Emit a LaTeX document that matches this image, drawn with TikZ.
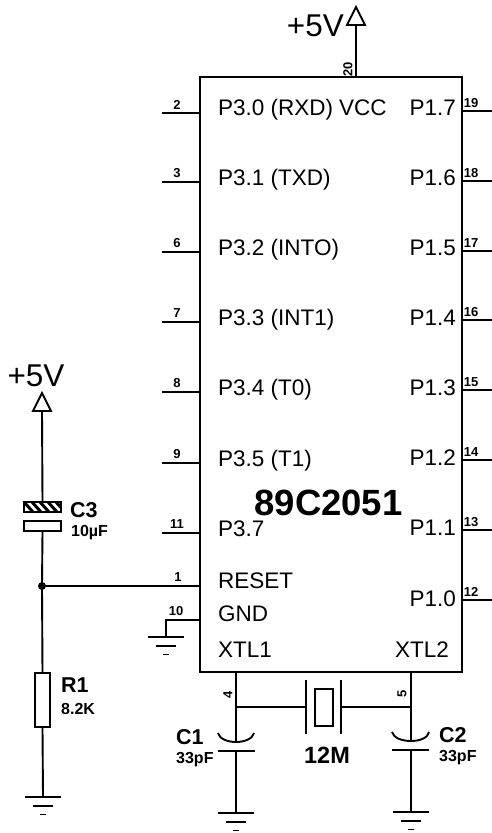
\documentclass[tikz,border=0pt]{standalone}
\usepackage{fontspec}
\setmainfont{Liberation Sans}
\tikzset{
  x=1pt,y=-1pt,
  wire/.style={line width=1.9pt,line cap=round},
  pinwire/.style={line width=1.5pt},
  heavy/.style={line width=1.9pt},
  lab/.style={inner sep=0pt,font=\fontsize{22.5}{24}\selectfont},
  llab/.style={lab,anchor=base west},
  rlab/.style={lab,anchor=base east},
  pinno/.style={inner sep=0pt,font=\bfseries\fontsize{13}{14}\selectfont},
  refl/.style={inner sep=0pt,anchor=west,font=\bfseries\fontsize{21.5}{22}\selectfont},
  vall/.style={inner sep=0pt,anchor=west,font=\bfseries\fontsize{16}{17}\selectfont},
  pwr/.style={inner sep=0pt,font=\fontsize{31.5}{32}\selectfont},
  chip/.style={draw,line width=2.2pt,minimum width=262pt,minimum height=595pt,inner sep=0pt},
  part/.style={draw,line width=1.9pt,fill=white,inner sep=0pt},
}
\newcommand{\gnd}[3]{% name x y
  \coordinate (#1) at (#2,#3);
  \draw[heavy] (#2-18,#3) -- (#2+18,#3);
  \draw[heavy] (#2-10,#3+9) -- (#2+10,#3+9);
  \draw[heavy] (#2-3,#3+17.5) -- (#2+3,#3+17.5);
}
\newcommand{\pwrarrow}[3]{% name x ytip
  \coordinate (#1) at (#2,#3+18);
  \draw[heavy,line join=miter] (#2,#3) -- (#2+9,#3+18) -- (#2-9,#3+18) -- cycle;
}
\begin{document}
\begin{tikzpicture}
\useasboundingbox (0,0) rectangle (492,833);
\node[chip] (U) at (331,374.5) {};
% left pins
\foreach \n/\y/\lbl/\ly in {2/113/{P3.0 (RXD)}/115.5,3/182/{P3.1 (TXD)}/185,6/252/{P3.2 (INTO)}/255.5,7/322/{P3.3 (INT1)}/325.5,8/392/{P3.4 (T0)}/395,9/463/{P3.5 (T1)}/466,11/533/{P3.7}/536}{
  \coordinate (L\n) at (200,\y);
  \coordinate (E\n) at (162,\y);
  \draw[pinwire] (L\n) -- (E\n);
  \node[pinno] (N\n) at (177,\y-8.5) {\n};
  \node[llab] (T\n) at (218,\ly) {\lbl};
}
% right pins
\foreach \n/\y/\lbl/\ly in {19/111/P1.7/115,18/181/P1.6/185,17/251/P1.5/255,16/320/P1.4/325,15/390/P1.3/395,14/460/P1.2/465,13/530/P1.1/535,12/600/P1.0/606}{
  \coordinate (R\n) at (462,\y);
  \coordinate (F\n) at (492,\y);
  \draw[pinwire] (R\n) -- (F\n);
  \node[pinno] (N\n) at (471,\y-8) {\n};
  \node[rlab] (T\n) at (456,\ly) {\lbl};
}
\node[llab] (tvcc) at (339,115.5) {VCC};
\node[llab] (treset) at (218,588) {RESET};
\node[llab] (tgnd) at (218,621) {GND};
\node[llab] (txtl1) at (218,657.5) {XTL1};
\node[rlab] (txtl2) at (449,657.5) {XTL2};
\node[inner sep=0pt,font=\bfseries\fontsize{36.5}{38}\selectfont] (tname) at (328.5,503) {89C2051};
% VCC supply
\pwrarrow{vtop}{356}{7}
\coordinate (p20) at (356,77);
\draw[wire] (vtop) -- (p20);
\node[pinno,rotate=90] (n20) at (348,69) {20};
\node[pwr,anchor=east] (v1) at (344,26) {+5V};
% reset
\pwrarrow{vleft}{42}{393}
\node[pwr] (v2) at (36,376) {+5V};
\node[part,minimum width=37pt,minimum height=10pt] (c3a) at (42.5,507) {};
\begin{scope}
  \clip (c3a.north west) rectangle (c3a.south east);
  \foreach \sx in {24,32,40,48,56}
    \draw[line width=3pt] (\sx,502) -- (\sx+9,512);
\end{scope}
\node[part,minimum width=37pt,minimum height=10pt] (c3b) at (42.5,526) {};
\node[refl] (tc3) at (70,510) {C3};
\node[vall] (tc3v) at (71,533) {10µF};
\coordinate (J) at (42,586);
\coordinate (L1) at (200,586);
\coordinate (E1) at (162,586);
\draw[wire] (vleft) -- (c3a.north);
\draw[wire] (c3b.south) -- (J);
\draw[pinwire] (J) -- (L1);
\fill (J) circle (4pt);
\node[pinno] (N1) at (178,577) {1};
\node[part,minimum width=15pt,minimum height=54pt] (r1) at (42.5,700) {};
\node[refl] (tr1) at (61,685) {R1};
\node[vall] (tr1v) at (61,708.5) {8.2K};
\gnd{g3}{43}{797}
\draw[wire] (J) -- (r1.north);
\draw[wire] (r1.south) -- (g3);
% GND pin
\coordinate (L10) at (200,620);
\coordinate (K10) at (166,620);
\gnd{g10}{166}{637}
\draw[pinwire] (L10) -- (K10) -- (g10);
\node[pinno] (N10) at (176,611) {10};
% crystal
\coordinate (p4) at (236,672);
\coordinate (p5) at (411,672);
\coordinate (j4) at (236,707);
\coordinate (j5) at (411,707);
\node[pinno,rotate=90] (n4) at (228,695) {4};
\node[pinno,rotate=90] (n5) at (402,694) {5};
\coordinate (xa) at (306,707);
\coordinate (xb) at (341,707);
\draw[heavy] (306,680) -- (306,734);
\draw[heavy] (341,680) -- (341,734);
\node[part,minimum width=18pt,minimum height=37pt] (xt) at (324,707.5) {};
\draw[pinwire] (j4) -- (xa);
\draw[pinwire] (xb) -- (j5);
\node[inner sep=0pt,font=\bfseries\fontsize{23.5}{24}\selectfont] (t12) at (327,755) {12M};
% C1
\coordinate (c1t) at (236,742);
\coordinate (c1b) at (236,751);
\draw[wire] (p4) -- (c1t);
\draw[heavy] (218,733) .. controls (221,745) and (251,745) .. (254,733);
\draw[heavy] (218,751) -- (255,751);
\gnd{g1}{236}{813}
\draw[wire] (c1b) -- (g1);
\node[refl] (tc1) at (176,737) {C1};
\node[vall] (tc1v) at (176,760) {33pF};
% C2
\coordinate (c2t) at (411,741);
\coordinate (c2b) at (411,750);
\draw[wire] (p5) -- (c2t);
\draw[heavy] (392,732) .. controls (395,744) and (427,744) .. (429,732);
\draw[heavy] (392,750) -- (429,750);
\gnd{g2}{411}{812}
\draw[wire] (c2b) -- (g2);
\node[refl] (tc2) at (439,735) {C2};
\node[vall] (tc2v) at (439,758) {33pF};
\end{tikzpicture}
\end{document}
